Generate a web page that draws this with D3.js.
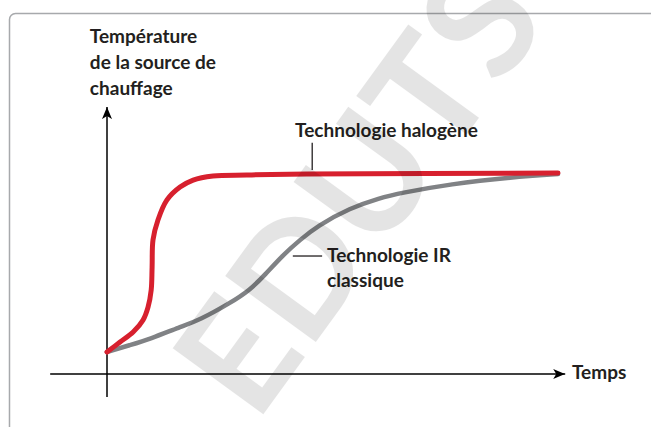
<!DOCTYPE html>
<html lang="fr">
<head>
    <meta charset="UTF-8">
    <title>Température de la source de chauffage</title>
    <style>
        body { margin: 0; background: #fff; }
        text { font-family: Lato, "Open Sans", sans-serif; font-weight: 700; fill: #231f20; }
    </style>
</head>
<body>
<script src="https://d3js.org/d3.v7.min.js" type="text/javascript"></script>
<script>
    // time (0-100) and temperature (0-100, plateau = 100)
    var halogenTime = [0, 2.9, 5.8, 8.0, 9.1, 9.8, 10.0, 10.2, 11.3, 13.3, 16.2, 19.1, 23.5, 31.0, 44.3, 100];
    var halogenTemp = [10.9, 15.9, 20.9, 26.9, 33.3, 41.8, 53.2, 66.7, 76.6, 86.6, 93.0, 96.5, 98.5, 99.0, 99.5, 100];
    var irTime = [0, 5.1, 9.5, 16.2, 20.6, 27.3, 31.7, 35.0, 39.0, 42.8, 46.6, 53.9, 60.5, 65.0, 76.1, 90.0, 100];
    var irTemp = [10.9, 14.4, 17.4, 23.4, 26.9, 35.3, 41.8, 49.3, 59.2, 66.7, 73.6, 82.6, 87.6, 90.0, 94.5, 98.0, 99.5];
    var yTitle = ["Température", "de la source de", "chauffage"];
    var xTitle = "Temps";
    var halogenLabel = ["Technologie halogène"];
    var irLabel = ["Technologie IR", "classique"];

    const width = 651;
    const height = 427;

    const svg = d3.select("body")
        .append("svg")
        .attr("width", width)
        .attr("height", height);

    const x = d3.scaleLinear().domain([0, 100]).range([107, 558]);
    const y = d3.scaleLinear().domain([0, 100]).range([374, 173]);

    // frame
    svg.append("rect")
        .attr("x", 9.5).attr("y", 13.5)
        .attr("width", 720).attr("height", 500)
        .attr("rx", 6)
        .attr("fill", "none")
        .attr("stroke", "#a7a9ac")
        .attr("stroke-width", 1.5);

    // arrow heads
    var defs = svg.append("defs");
    defs.append("marker")
        .attr("id", "arrow")
        .attr("viewBox", "0 0 12 10")
        .attr("refX", 12).attr("refY", 5)
        .attr("markerWidth", 12).attr("markerHeight", 10)
        .attr("markerUnits", "userSpaceOnUse")
        .attr("orient", "auto")
        .append("path")
        .attr("d", "M0,0 L12,5 L0,10 L3,5 Z")
        .attr("fill", "#000");

    // axes
    svg.append("line")
        .attr("x1", x(0)).attr("x2", x(0))
        .attr("y1", y(-11.4)).attr("y2", y(132.8))
        .attr("stroke", "#000").attr("stroke-width", 1.5)
        .attr("marker-end", "url(#arrow)");
    svg.append("line")
        .attr("x1", x(-12.6)).attr("x2", x(101.6))
        .attr("y1", y(0)).attr("y2", y(0))
        .attr("stroke", "#000").attr("stroke-width", 1.5)
        .attr("marker-end", "url(#arrow)");

    var irLine = d3.line()
        .x(function (d) { return x(d[0]); })
        .y(function (d) { return y(d[1]); })
        .curve(d3.curveBasis);
    var halogenLine = d3.line()
        .x(function (d) { return x(d[0]); })
        .y(function (d) { return y(d[1]); })
        .curve(d3.curveCatmullRom.alpha(0.5));

    svg.append("path")
        .datum(d3.zip(irTime, irTemp))
        .attr("d", irLine)
        .attr("fill", "none")
        .attr("stroke", "#808285")
        .attr("stroke-width", 4.5)
        .attr("stroke-linecap", "round");

    svg.append("path")
        .datum(d3.zip(halogenTime, halogenTemp))
        .attr("d", halogenLine)
        .attr("fill", "none")
        .attr("stroke", "#d7202e")
        .attr("stroke-width", 5)
        .attr("stroke-linecap", "round");

    // labels
    svg.append("text")
        .selectAll("tspan")
        .data(yTitle)
        .enter()
        .append("tspan")
        .attr("x", x(-3.8))
        .attr("y", function (d, i) { return y(164.7) + i * 26; })
        .attr("font-size", 19)
        .text(function (d) { return d; });

    svg.append("text")
        .attr("x", x(103.1)).attr("y", y(-2.3))
        .attr("font-size", 19)
        .text(xTitle);

    svg.append("text")
        .attr("x", x(41.7)).attr("y", y(117.9))
        .attr("font-size", 19)
        .text(halogenLabel[0]);
    svg.append("line")
        .attr("x1", x(45.5)).attr("x2", x(45.5))
        .attr("y1", y(115)).attr("y2", y(101.5))
        .attr("stroke", "#231f20").attr("stroke-width", 1.3);

    svg.append("text")
        .selectAll("tspan")
        .data(irLabel)
        .enter()
        .append("tspan")
        .attr("x", x(48.8))
        .attr("y", function (d, i) { return y(55.7) + i * 25; })
        .attr("font-size", 19)
        .text(function (d) { return d; });
    svg.append("line")
        .attr("x1", x(41.2)).attr("x2", x(47.7))
        .attr("y1", y(58.7)).attr("y2", y(58.7))
        .attr("stroke", "#231f20").attr("stroke-width", 1.3);

    // watermark
    svg.append("text")
        .attr("transform", "translate(403,222) rotate(-54)")
        .attr("text-anchor", "middle")
        .attr("font-family", "DejaVu Sans")
        .attr("font-weight", 700)
        .attr("font-size", 155)
        .style("fill", "#000")
        .style("opacity", 0.1)
        .text("EDUTS");
</script>
</body>
</html>
